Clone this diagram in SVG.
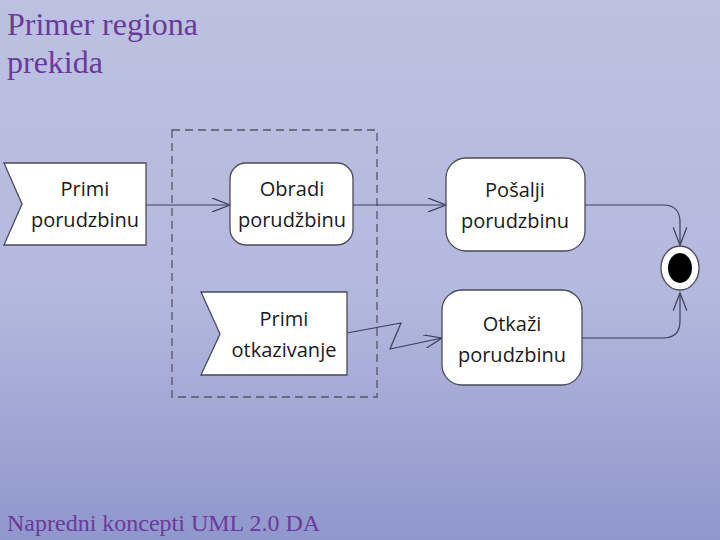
<svg xmlns="http://www.w3.org/2000/svg" width="720" height="540" viewBox="0 0 720 540">
<defs>
<linearGradient id="bg" x1="0" y1="0" x2="0" y2="1">
<stop offset="0" stop-color="#bdc1e1"/>
<stop offset="0.55" stop-color="#b3b8dd"/>
<stop offset="1" stop-color="#8f97cc"/>
</linearGradient>
<marker id="arr" markerWidth="20" markerHeight="14" refX="18" refY="7" orient="auto" markerUnits="userSpaceOnUse">
<path d="M0,0 L18,7 L0,14" fill="none" stroke="#3a3f5c" stroke-width="1.2"/>
</marker>
<style>
.title{font-family:"Liberation Serif",serif;fill:#6a3a9a}
.node{fill:#ffffff;stroke:#4a4a5a;stroke-width:1.3}
.lbl{font-family:"Open Sans","Liberation Sans",sans-serif;font-size:20px;fill:#1a1a1a;text-anchor:middle}
.con{fill:none;stroke:#3a3f5c;stroke-width:1.2}
</style>
</defs>
<rect width="720" height="540" fill="url(#bg)"/>
<text class="title" x="7" y="35" font-size="32">Primer regiona</text>
<text class="title" x="7" y="73" font-size="32">prekida</text>
<text class="title" x="7" y="531" font-size="24">Napredni koncepti UML 2.0 DA</text>

<g id="region">
<rect x="172" y="130" width="205" height="267" fill="none" stroke="#555566" stroke-width="1.3" stroke-dasharray="8,5"/>
</g>

<g id="connectors">
<path class="con" d="M146,205 L230,205" marker-end="url(#arr)"/>
<path class="con" d="M353,205 L446,205" marker-end="url(#arr)"/>
<path class="con" d="M585,205 L663,205 Q680,205 680,222 L680,245" marker-end="url(#arr)"/>
<path class="con" d="M582,338 L663,338 Q680,338 680,321 L680,293" marker-end="url(#arr)"/>
<path class="con" d="M347,333 L401,323 L390,349 L442,338" marker-end="url(#arr)"/>
</g>

<g id="primi-porudzbinu">
<path class="node" d="M4,163 L146,163 L146,245 L4,245 L22,204 Z"/>
<text class="lbl" x="85" y="196">Primi</text>
<text class="lbl" x="85" y="227">porudzbinu</text>
</g>
<g id="obradi-porudzbinu">
<rect class="node" x="230" y="163" width="123" height="82" rx="16"/>
<text class="lbl" x="292" y="196">Obradi</text>
<text class="lbl" x="292" y="227">porudžbinu</text>
</g>
<g id="primi-otkazivanje">
<path class="node" d="M201,292 L347,292 L347,375 L201,375 L220,334 Z"/>
<text class="lbl" x="284" y="326">Primi</text>
<text class="lbl" x="284" y="357">otkazivanje</text>
</g>
<g id="posalji-porudzbinu">
<rect class="node" x="446" y="158" width="139" height="93" rx="20"/>
<text class="lbl" x="515" y="197">Pošalji</text>
<text class="lbl" x="515" y="228">porudzbinu</text>
</g>
<g id="otkazi-porudzbinu">
<rect class="node" x="442" y="290" width="140" height="95" rx="20"/>
<text class="lbl" x="512" y="331">Otkaži</text>
<text class="lbl" x="512" y="362">porudzbinu</text>
</g>
<g id="final">
<ellipse cx="680" cy="268" rx="19" ry="22" fill="#ffffff" stroke="#4a4a5a" stroke-width="1.3"/>
<ellipse cx="680" cy="268" rx="12" ry="15" fill="#000000"/>
</g>
</svg>
